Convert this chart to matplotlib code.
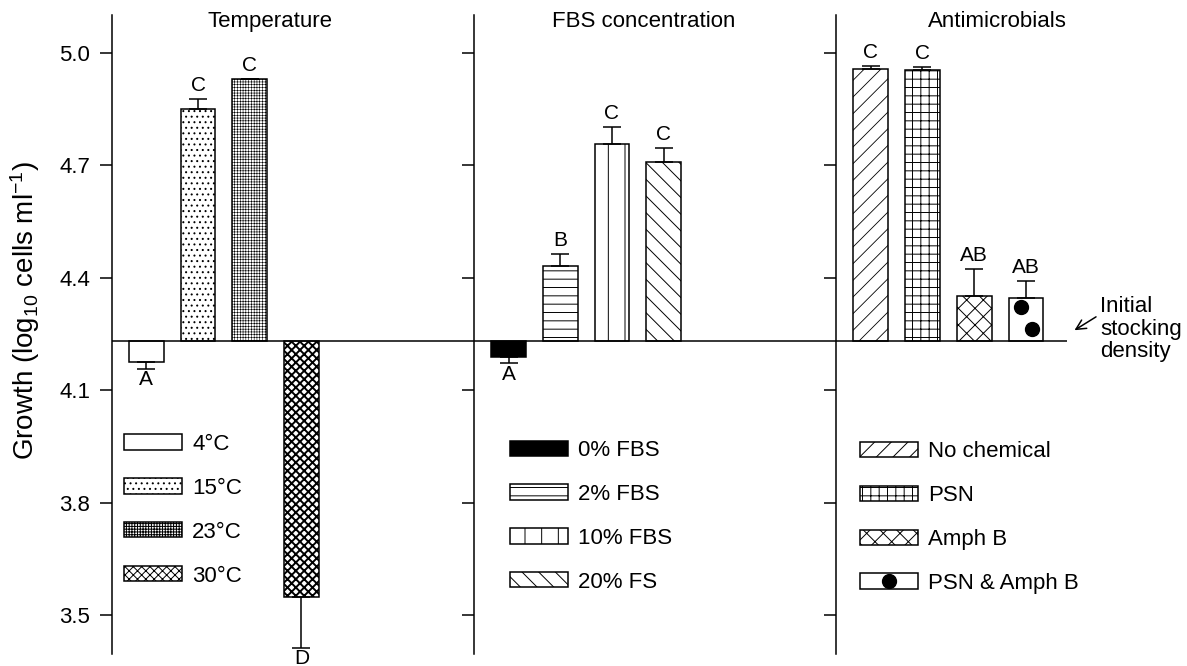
import numpy as np
import matplotlib
matplotlib.use('Agg')
import matplotlib.pyplot as plt
from matplotlib.transforms import blended_transform_factory
from matplotlib.lines import Line2D

plt.rcParams['font.family'] = ['Liberation Sans', 'DejaVu Sans']
plt.rcParams['mathtext.fontset'] = 'custom'
plt.rcParams['mathtext.rm'] = 'Liberation Sans'
plt.rcParams['mathtext.it'] = 'Liberation Sans:italic'
plt.rcParams['hatch.linewidth'] = 0.7

# data (log10 cells/ml)
baseline = 4.232

temp_labels = ['4°C', '15°C', '23°C', '30°C']
temp_vals = [4.175, 4.851, 4.929, 3.547]
temp_err = [0.018, 0.025, 0.0, 0.135]
temp_sig = ['A', 'C', 'C', 'D']

fbs_labels = ['0% FBS', '2% FBS', '10% FBS', '20% FS']
fbs_vals = [4.188, 4.430, 4.757, 4.710]
fbs_err = [0.016, 0.033, 0.044, 0.035]
fbs_sig = ['A', 'B', 'C', 'C']

anti_labels = ['No chemical', 'PSN', 'Amph B', 'PSN & Amph B']
anti_vals = [4.957, 4.953, 4.352, 4.346]
anti_err = [0.007, 0.010, 0.070, 0.045]
anti_sig = ['C', 'C', 'AB', 'AB']

# fill / hatch / hatch width per bar
temp_style = [('white', '', 0.7), ('white', '...', 0.7), ('white', '++++++', 0.4),
              ('white', 'xxxx', 1.4)]
fbs_style = [('black', '', 0.7), ('white', '--', 0.7), ('white', '|', 0.7),
             ('white', '\\\\', 0.7)]
anti_style = [('white', '//', 0.6), ('white', '++', 0.7), ('white', 'xx', 0.7),
              ('white', '', 0.7)]

W, H = 1187, 666
fig = plt.figure(figsize=(W / 100, H / 100), dpi=100)

ybot, ytop = 3.396, 5.101
ax_b, ax_h = 12 / H, 639 / H
ax1 = fig.add_axes([111.7 / W, ax_b, 362.2 / W, ax_h])
ax2 = fig.add_axes([473.9 / W, ax_b, 362.2 / W, ax_h])
ax3 = fig.add_axes([836.1 / W, ax_b, 231 / W, ax_h])

bw = 0.67


def draw_panel(ax, vals, errs, sigs, styles, xmax):
    x = np.arange(len(vals))
    vals = np.array(vals)
    errs = np.array(errs)
    bars = ax.bar(x, vals - baseline, bottom=baseline, width=bw,
                  edgecolor='black', linewidth=1.1, zorder=2)
    for b, (fc, h, hlw) in zip(bars, styles):
        b.set_facecolor(fc)
        b.set_hatch(h)
        if hasattr(b, 'set_hatch_linewidth'):
            b.set_hatch_linewidth(hlw)
    neg = vals < baseline
    lower = np.where(neg, errs, 0)
    upper = np.where(neg, 0, errs)
    ax.errorbar(x, vals, yerr=[lower, upper], fmt='none', ecolor='black',
                elinewidth=1.1, capsize=6.5, capthick=1.1, zorder=3)
    for xi, v, e, s, n in zip(x, vals, errs, sigs, neg):
        if n:
            ax.annotate(s, (xi, v - e), xytext=(0, -1), textcoords='offset points',
                        ha='center', va='top', fontsize=15, annotation_clip=False)
        else:
            ax.annotate(s, (xi, v + e), xytext=(0, 3), textcoords='offset points',
                        ha='center', va='bottom', fontsize=15)
    ax.axhline(baseline, color='black', lw=1.1, zorder=4)
    ax.set_xlim(-0.671, xmax)
    ax.set_ylim(ybot, ytop)
    ax.set_xticks([])
    ax.set_yticks([3.5, 3.8, 4.1, 4.4, 4.7, 5.0])
    for sp in ['top', 'right', 'bottom']:
        ax.spines[sp].set_visible(False)
    ax.spines['left'].set_linewidth(1.1)
    ax.tick_params(axis='y', direction='out', length=8.6, width=1.1,
                   labelsize=16, pad=7)
    ax.patch.set_alpha(0)
    return bars


b1 = draw_panel(ax1, temp_vals, temp_err, temp_sig, temp_style, 6.335)
b2 = draw_panel(ax2, fbs_vals, fbs_err, fbs_sig, fbs_style, 6.335)
b3 = draw_panel(ax3, anti_vals, anti_err, anti_sig, anti_style, 3.797)
ax1.yaxis.set_major_formatter(matplotlib.ticker.FormatStrFormatter('%.1f'))
ax2.tick_params(labelleft=False)
ax3.tick_params(labelleft=False)

# two black dots on the PSN & Amph B bar
last = b3[-1]
cx = last.get_x() + last.get_width() / 2
h = last.get_height()
ax3.plot([cx - 0.1, cx + 0.117], [baseline + 0.8 * h, baseline + 0.28 * h], 'o',
         color='black', ms=10, zorder=3)

# titles
for ax, t, tx in [(ax1, 'Temperature', 2.39), (ax2, 'FBS concentration', 2.607),
                  (ax3, 'Antimicrobials', 2.455)]:
    tr = blended_transform_factory(ax.transData, ax.transAxes)
    ax.text(tx, 0.981, t, transform=tr, ha='center', va='baseline', fontsize=16)

# legends
dot = Line2D([], [], marker='o', color='black', ls='none', ms=10)
leg_kw = dict(frameon=False, fontsize=16, handlelength=2.61, handleheight=0.68,
              handletextpad=0.45, labelspacing=1.03, borderpad=0, borderaxespad=0,
              loc='upper left')
ax1.legend(list(b1), temp_labels, bbox_to_anchor=(0.034, 0.3445), **leg_kw)
ax2.legend(list(b2), fbs_labels, bbox_to_anchor=(0.099, 0.335), **leg_kw)
ax3.legend(list(b3[:3]) + [(b3[3], dot)], anti_labels,
           bbox_to_anchor=(0.102, 0.333), **leg_kw)

# initial stocking density note
ax3.annotate('', xy=(3.894, baseline + 0.024), xytext=(4.402, baseline + 0.0675),
             arrowprops=dict(arrowstyle='->,head_length=0.7,head_width=0.35',
                             lw=1.1, color='black'), annotation_clip=False)
ax3.text(4.441, baseline + 0.031, 'Initial\nstocking\ndensity', ha='left',
         va='center', fontsize=16, linespacing=1.12, clip_on=False)

fig.text(25 / W, 1 - 310 / H, 'Growth (log$_{\\mathregular{10}}$ cells ml$^{\\mathregular{-1}}$)',
         rotation=90, ha='center', va='center', fontsize=20)

fig.savefig('out.png', dpi=100)
